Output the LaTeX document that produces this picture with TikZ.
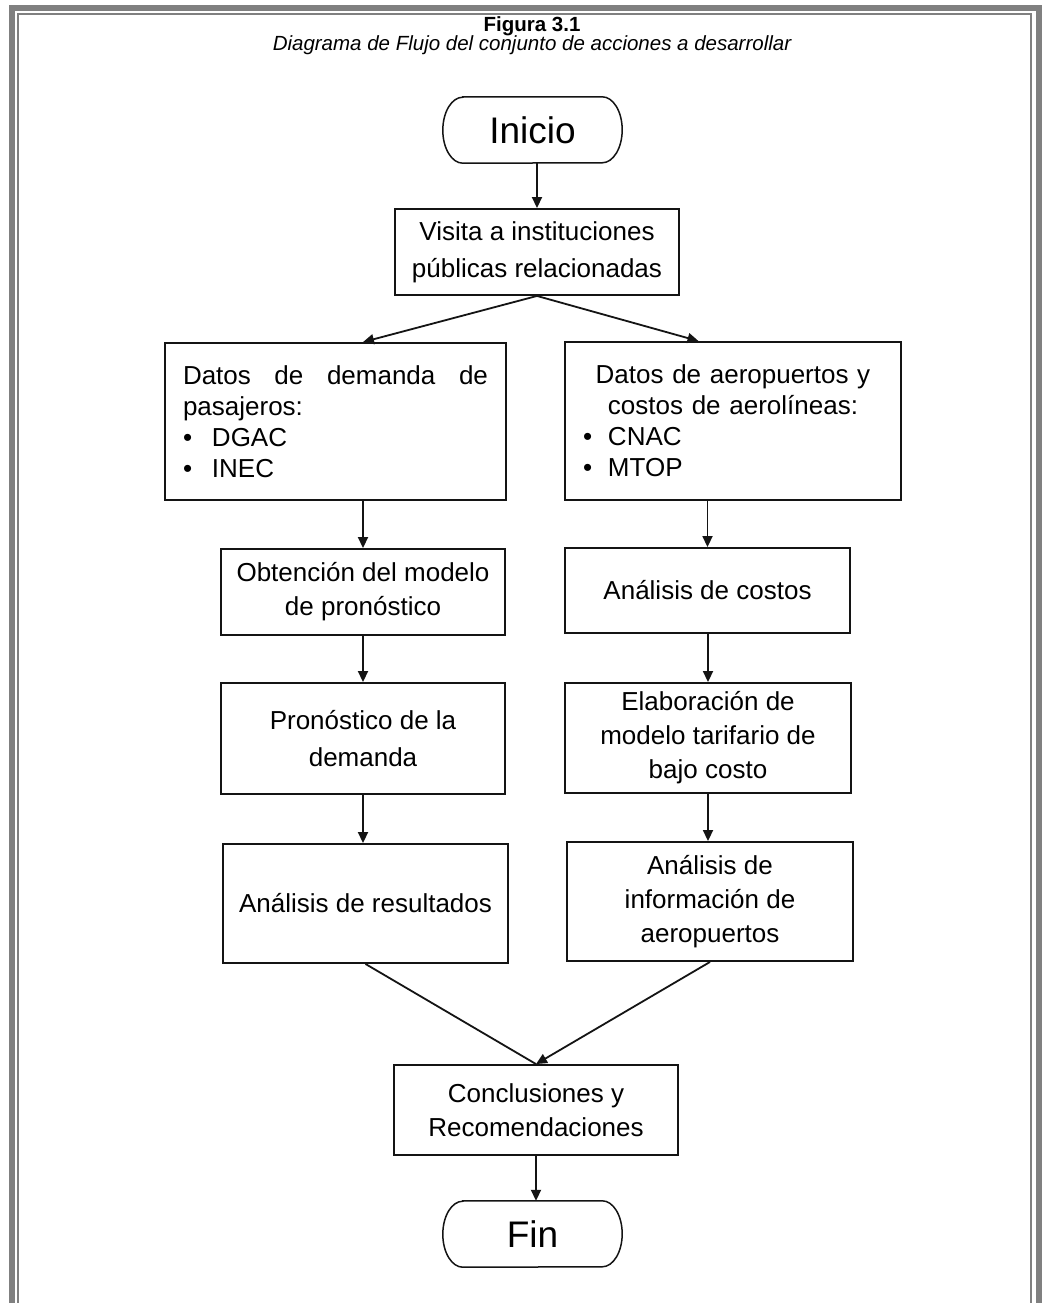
\documentclass[tikz,border=0pt]{standalone}
\usepackage{fontspec}
\setmainfont{Liberation Sans}
\usetikzlibrary{arrows.meta,calc}
\definecolor{framegray}{HTML}{808080}
\definecolor{ink}{HTML}{141414}
\begin{document}
\begin{tikzpicture}[x=1pt,y=-1pt,
  box/.style={draw=ink, line width=1.9pt, rectangle, align=center, inner sep=0pt,
    font=\fontsize{26}{34}\selectfont},
  termnode/.style={rectangle, inner sep=0pt, minimum width=139pt, minimum height=66pt,
    font=\fontsize{37}{40}\selectfont},
  termline/.style={draw=ink, line width=1.5pt},
  arr/.style={draw=ink, line width=1.8pt, -{Triangle[length=11pt,width=10pt]}},
  link/.style={draw=ink, line width=1.8pt},
  framebar/.style={draw=framegray, line width=6pt, line join=miter},
  frameline/.style={draw=framegray, line width=2pt, line join=miter}
]
\useasboundingbox (0,0) rectangle (1048,1303);
\fill[white] (0,0) rectangle (1048,1303);
% frame
\draw[framebar] (11.5,1303) -- (11.5,8) -- (1039,8) -- (1039,1303);
\draw[frameline] (18,1303) -- (18,14) -- (1031,14) -- (1031,1303);

% titles
\node[anchor=base, font=\bfseries\fontsize{20.5}{22}\selectfont] (tit) at (532,32) {Figura 3.1};
\node[anchor=base, font=\itshape\fontsize{20.5}{22}\selectfont] (sub) at (532,51) {Diagrama de Flujo del conjunto de acciones a desarrollar};

% terminals
\node[termnode] (ini) at (532.5,130) {Inicio};
\draw[termline] (ini.north west) -- (ini.north east)
  arc[start angle=90, end angle=-90, x radius=20pt, y radius=33pt]
  -- (ini.south west)
  arc[start angle=270, end angle=90, x radius=20pt, y radius=33pt] -- cycle;

\node[termnode] (fin) at (532.5,1234) {Fin};
\draw[termline] (fin.north west) -- (fin.north east)
  arc[start angle=90, end angle=-90, x radius=20pt, y radius=33pt]
  -- (fin.south west)
  arc[start angle=270, end angle=90, x radius=20pt, y radius=33pt] -- cycle;

% boxes
\node[box, minimum width=284pt, minimum height=86pt, font=\fontsize{26}{37}\selectfont] (vis) at (537,252) {Visita a instituciones\\públicas relacionadas};

\node[box, minimum width=341pt, minimum height=157pt, text width=305pt, align=justify,
  font=\fontsize{26}{31}\selectfont] (d1) at (335.5,421.5)
  {\tolerance=10000 \hyphenpenalty=10000 Datos de demanda de pasajeros:\par
   \makebox[29pt][l]{•}DGAC\par
   \makebox[29pt][l]{•}INEC};

\node[box, minimum width=336pt, minimum height=158pt, text width=300pt, align=left,
  font=\fontsize{26}{31}\selectfont] (d2) at (733,421)
  {{\centering Datos de aeropuertos y\\costos de aerolíneas:\par}
   \makebox[25pt][l]{•}CNAC\par
   \makebox[25pt][l]{•}MTOP};

\node[box, minimum width=284pt, minimum height=86pt] (obt) at (363,592) {Obtención del modelo\\de pronóstico};
\node[box, minimum width=285pt, minimum height=85pt] (cos) at (707.5,590.5) {Análisis de costos};

\node[box, minimum width=284pt, minimum height=111pt, font=\fontsize{26}{37}\selectfont] (pro) at (363,738.5) {Pronóstico de la\\demanda};
\node[box, minimum width=286pt, minimum height=110pt] (ela) at (708,738) {Elaboración de\\modelo tarifario de\\bajo costo};

\node[box, minimum width=285pt, minimum height=119pt] (res) at (365.5,903.5) {Análisis de resultados};
\node[box, minimum width=286pt, minimum height=119pt] (inf) at (710,901.5) {Análisis de\\información de\\aeropuertos};

\node[box, minimum width=284pt, minimum height=90pt] (con) at (536,1110) {Conclusiones y\\Recomendaciones};

% connectors
\draw[arr] (vis.north |- ini.south) -- (vis.north);
\draw[arr] (vis.south) -- (obt.north |- d1.north);
\draw[arr] (vis.south) -- ([xshift=-9pt]cos.north |- d2.north);
\draw[arr] (obt.north |- d1.south) -- (obt.north);
\draw[arr] (cos.north |- d2.south) -- (cos.north);
\draw[arr] (obt.south) -- (pro.north);
\draw[arr] (ela.north |- cos.south) -- (ela.north);
\draw[arr] (pro.south) -- (pro.south |- res.north);
\draw[arr] (ela.south) -- (ela.south |- inf.north);
\draw[link] (res.south) -- (con.north);
\draw[arr] (inf.south) -- (con.north);
\draw[arr] (con.south) -- (con.south |- fin.north);
\end{tikzpicture}
\end{document}
